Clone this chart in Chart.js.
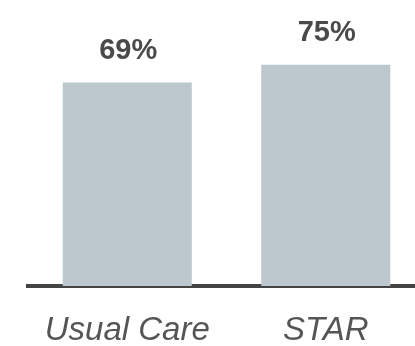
<!DOCTYPE html>
<html lang="en">
<head>
    <meta charset="UTF-8">
    <title>Usual Care vs STAR</title>
    <style>
        html, body {
            margin: 0;
            padding: 0;
            background-color: #ffffff;
            overflow: hidden;
        }
        #wrap {
            width: 430px;
            height: 346px;
        }
    </style>
    <script src="https://cdn.jsdelivr.net/npm/chart.js"></script>
</head>
<body>
    <div id="wrap"><canvas id="barChart" width="430" height="346"></canvas></div>

    <script>
        // data
        const categories = ['Usual Care', 'STAR'];
        const values = [69, 75];
        const valueLabels = ['69%', '75%'];

        // draws the percentage above each bar
        const topLabels = {
            id: 'topLabels',
            afterDatasetsDraw(chart) {
                const ctx = chart.ctx;
                const meta = chart.getDatasetMeta(0);
                ctx.save();
                ctx.font = 'bold 29px "Liberation Sans", Arial, sans-serif';
                ctx.fillStyle = '#4a4a4a';
                ctx.textAlign = 'center';
                ctx.textBaseline = 'alphabetic';
                meta.data.forEach((bar, i) => {
                    ctx.fillText(valueLabels[i], bar.x + 1, bar.y - 24);
                });
                ctx.restore();
            }
        };

        new Chart(document.getElementById('barChart').getContext('2d'), {
            type: 'bar',
            data: {
                labels: categories,
                datasets: [{
                    data: values,
                    backgroundColor: '#bdc7ce',
                    borderWidth: 0,
                    categoryPercentage: 1,
                    barPercentage: 0.65
                }]
            },
            options: {
                responsive: false,
                animation: false,
                layout: { padding: { left: 28, right: 5, top: 0, bottom: 0 } },
                plugins: {
                    legend: { display: false },
                    tooltip: { enabled: false }
                },
                scales: {
                    x: {
                        afterFit(scale) { scale.height = 60; },
                        grid: { display: false, drawTicks: false },
                        border: { display: true, color: '#444', width: 4 },
                        ticks: {
                            padding: 25,
                            color: '#555',
                            font: { family: '"Liberation Sans", Arial, sans-serif', size: 33, style: 'italic' }
                        }
                    },
                    y: {
                        display: false,
                        min: 0,
                        max: 97
                    }
                }
            },
            plugins: [topLabels]
        });
    </script>
</body>
</html>
